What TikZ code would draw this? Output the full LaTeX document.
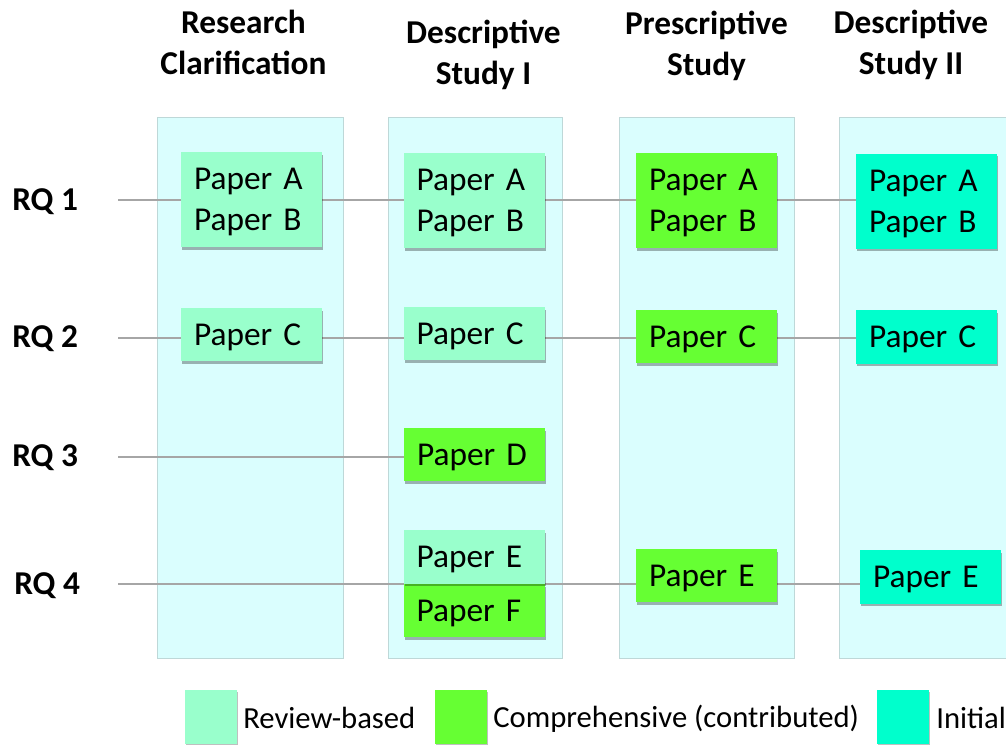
\documentclass[tikz,border=0pt]{standalone}
\usepackage{fontspec}
\setmainfont{Carlito}
\usetikzlibrary{shadows}
\definecolor{bandfill}{RGB}{218,254,254}
\definecolor{banddraw}{RGB}{190,216,216}
\definecolor{review}{RGB}{153,255,204}
\definecolor{compr}{RGB}{102,255,51}
\definecolor{initial}{RGB}{0,255,204}
\definecolor{linegray}{RGB}{166,166,166}
\pgfdeclarelayer{bg}
\pgfsetlayers{bg,main}
\begin{document}
\begin{tikzpicture}[x=0.75pt,y=-0.75pt,
  phase/.style={fill=bandfill,draw=banddraw,line width=0.6pt},
  conn/.style={draw=linegray,line width=1.5pt},
  paper/.style={inner sep=0pt,text width=86.25pt,align=left,
    minimum width=105.75pt,font=\fontsize{25}{30.75}\selectfont,
    execute at begin node={\rule{0pt}{20.5pt}},
    drop shadow={shadow xshift=1pt,shadow yshift=-2pt,opacity=0.3,fill=black}},
  two/.style={paper,minimum height=71.25pt},
  one/.style={paper,minimum height=40pt},
  rev/.style={fill=review},
  com/.style={fill=compr},
  ini/.style={fill=initial},
  head/.style={align=center,font=\fontsize{25}{30.75}\selectfont\bfseries},
  rq/.style={anchor=west,font=\fontsize{25}{30}\selectfont\bfseries,inner sep=0pt},
  key/.style={minimum width=39pt,minimum height=40.5pt,inner sep=0pt,
    drop shadow={shadow xshift=1pt,shadow yshift=-1.5pt,opacity=0.25,fill=black}},
  keytext/.style={anchor=west,inner sep=0pt,font=\fontsize{23}{27}\selectfont}
]
\useasboundingbox (0,0) rectangle (1006,744);

% column headers
\node[head] (h1) at (243.5,42) {Research\\Clarification};
\node[head] (h2) at (483.5,55) {Descriptive\\Study I};
\node[head] (h3) at (706.5,46) {Prescriptive\\Study};
\node[head] (h4) at (911,45) {Descriptive\\Study II};

% research questions
\node[rq] (rq1) at (12,202) {RQ 1};
\node[rq] (rq2) at (12,339) {RQ 2};
\node[rq] (rq3) at (12,458) {RQ 3};
\node[rq] (rq4) at (14,586) {RQ 4};
\coordinate (s1) at (118,200);
\coordinate (s2) at (118,338);
\coordinate (s3) at (118,457);
\coordinate (s4) at (118,584);

% papers per phase
\node[two,rev] (c1ab) at (251.5,199.5) {Paper A\\Paper B};
\node[one,rev] (c1c)  at (251.5,334.5) {Paper C};

\node[two,rev] (c2ab) at (474,200.5) {Paper A\\Paper B};
\node[one,rev] (c2c)  at (474,333.5) {Paper C};
\node[one,com] (c2d)  at (474.5,454.5) {Paper D};
\node[one,com] (c2f)  at (474,610.5) {Paper F};
\node[one,rev] (c2e)  at (474,557) {Paper E};

\node[two,com] (c3ab) at (706.5,200.5) {Paper A\\Paper B};
\node[one,com] (c3c)  at (706.5,336.5) {Paper C};
\node[one,com] (c3e)  at (706.5,575.5) {Paper E};

\node[two,ini] (c4ab) at (926.5,201) {Paper A\\Paper B};
\node[one,ini] (c4c)  at (926.5,337) {Paper C};
\node[one,ini] (c4e)  at (930.5,577) {Paper E};

\begin{pgfonlayer}{bg}
  % phase bands
  \path[phase] (157,117) rectangle (343,658);
  \path[phase] (388,117) rectangle (562,658);
  \path[phase] (619,117) rectangle (794,658);
  \path[phase] (839,117) rectangle (1012,658);
  % research question threads
  \draw[conn] (s1) -- (c4ab.west |- s1);
  \draw[conn] (s2) -- (c4c.west |- s2);
  \draw[conn] (s3) -- (c2d.west |- s3);
  \draw[conn] (s4) -- (c4e.west |- s4);
\end{pgfonlayer}

% legend
\node[key,rev] (k1) at (211,717) {};
\node[keytext] (t1) at (243,718) {Review-based};
\node[key,com] (k2) at (461,717) {};
\node[keytext] (t2) at (493,719) {Comprehensive (contributed)};
\node[key,ini] (k3) at (902.5,717) {};
\node[keytext] (t3) at (936,718) {Initial};
\end{tikzpicture}
\end{document}
